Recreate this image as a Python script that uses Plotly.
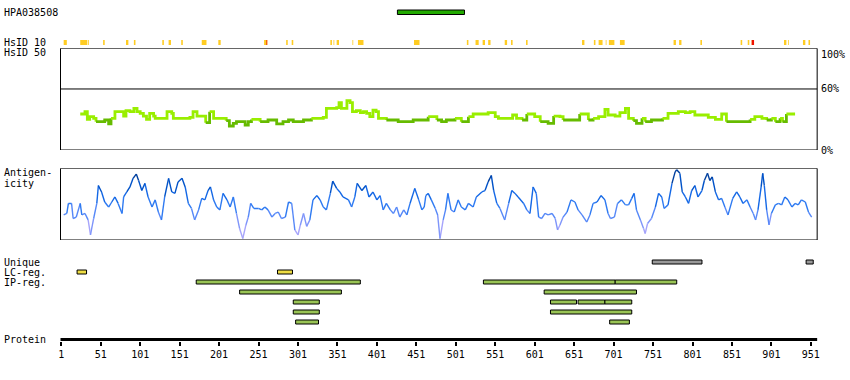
import plotly.graph_objects as go

# ---------------- data ----------------
protein_length = 959
antigen_name = "HPA038508"
antigen_start, antigen_end = 427, 512

tick_labels = [1, 51, 101, 151, 201, 251, 301, 351, 401, 451, 501, 551, 601, 651, 701, 751, 801, 851, 901, 951]

hsid10_start = [4, 25, 35, 54, 83, 93, 129, 137, 153, 179, 200, 258, 286, 293, 342, 346, 350, 370, 377, 448,
                515, 526, 535, 542, 563, 571, 590, 661, 676, 682, 691, 695, 709, 777, 784, 811, 862, 871, 876,
                917, 922, 941, 948]
hsid10_end = [8, 34, 36, 56, 86, 95, 131, 140, 155, 185, 203, 262, 288, 295, 344, 347, 353, 371, 384, 455,
              517, 530, 538, 545, 566, 573, 592, 664, 678, 687, 692, 702, 715, 780, 787, 813, 864, 873, 879,
              920, 923, 944, 950]
hsid10_red_start = [261, 876]
hsid10_red_end = [262, 879]

hsid50_res = [25, 31, 34, 37, 42, 45, 52, 56, 61, 64, 69, 75, 80, 83, 88, 93, 97, 101, 105, 109, 113, 118, 120,
              130, 135, 141, 143, 164, 168, 173, 182, 184, 189, 194, 206, 210, 214, 219, 223, 230, 234, 238, 242,
              247, 253, 263, 274, 282, 289, 295, 308, 318, 333, 337, 350, 353, 356, 363, 367, 370, 375, 380, 384,
              388, 392, 396, 400, 403, 413, 428, 447, 462, 466, 477, 483, 489, 500, 508, 517, 523, 542, 551, 555,
              566, 573, 578, 585, 591, 601, 608, 618, 625, 633, 637, 648, 658, 669, 675, 682, 690, 694, 703, 709,
              716, 720, 726, 730, 737, 741, 749, 758, 763, 770, 783, 792, 798, 804, 813, 821, 830, 838, 844, 865,
              874, 880, 889, 895, 901, 906, 912, 915, 920, 931]
hsid50_val = [35.4, 37.7, 30.1, 32.8, 31.1, 27.9, 27.9, 29.5, 25.6, 31.1, 37.7, 37.7, 33.4, 38.7, 37.7, 41.0, 37.7,
              36.0, 33.4, 30.1, 36.0, 33.4, 31.1, 31.1, 37.7, 36.0, 31.1, 32.1, 37.7, 33.4, 33.4, 26.9, 37.7, 31.1,
              31.1, 28.8, 23.6, 26.2, 27.9, 27.9, 24.6, 27.9, 30.1, 30.1, 27.9, 29.5, 25.6, 27.9, 29.5, 27.9, 29.5,
              31.1, 32.1, 41.0, 41.6, 46.5, 41.0, 48.5, 46.5, 37.7, 38.7, 36.7, 37.7, 36.0, 32.8, 39.3, 37.7, 31.1,
              29.5, 27.9, 29.5, 29.5, 32.8, 29.5, 27.9, 29.5, 31.1, 27.9, 32.8, 35.4, 36.7, 32.8, 31.1, 31.1, 34.4,
              31.1, 29.5, 35.4, 32.8, 27.9, 26.2, 33.4, 32.8, 29.5, 29.5, 35.4, 29.5, 31.1, 32.8, 40.0, 34.4, 33.4,
              36.7, 41.0, 31.1, 28.8, 26.2, 31.1, 27.9, 29.5, 29.5, 31.1, 36.0, 37.7, 36.7, 37.7, 34.4, 34.4, 32.1,
              30.1, 35.4, 27.9, 27.9, 30.1, 32.8, 31.1, 29.5, 31.1, 27.9, 31.1, 27.9, 35.4, 35.4]

antig_res = [4, 8, 10, 14, 16, 20, 25, 27, 31, 35, 38, 42, 46, 48, 52, 56, 61, 65, 69, 73, 78, 80, 84, 88, 92, 96,
             99, 103, 107, 111, 116, 120, 124, 128, 132, 137, 141, 145, 149, 154, 158, 162, 166, 170, 175, 179,
             183, 187, 190, 194, 198, 202, 206, 211, 215, 219, 223, 227, 231, 235, 238, 241, 245, 251, 255, 259,
             263, 268, 272, 276, 280, 285, 289, 293, 297, 301, 304, 308, 312, 316, 320, 325, 329, 333, 337, 342,
             345, 350, 354, 358, 365, 369, 373, 376, 382, 387, 391, 396, 401, 405, 409, 413, 418, 422, 426, 430,
             435, 439, 443, 449, 454, 458, 461, 463, 466, 470, 475, 478, 481, 485, 488, 491, 495, 499, 504, 508,
             513, 517, 523, 527, 534, 538, 542, 546, 549, 553, 557, 563, 568, 572, 576, 580, 587, 591, 595, 599,
             603, 606, 610, 614, 618, 623, 627, 630, 633, 637, 642, 647, 652, 656, 661, 667, 671, 675, 680, 685,
             690, 694, 697, 702, 706, 711, 716, 720, 724, 727, 730, 735, 739, 741, 744, 749, 754, 758, 762, 765,
             770, 775, 779, 781, 785, 788, 792, 796, 800, 804, 808, 813, 816, 820, 823, 826, 830, 834, 838, 842,
             846, 852, 857, 861, 865, 870, 874, 878, 881, 884, 888, 890, 892, 895, 898, 901, 906, 910, 914, 918,
             922, 927, 931, 935, 939, 944, 948, 952]
antig_val = [35, 37, 51, 51, 30, 32, 51, 35, 37, 28, 7, 30, 51, 76, 67, 53, 46, 53, 60, 51, 37, 60, 67, 74, 86, 92,
             83, 69, 79, 60, 46, 56, 39, 28, 60, 86, 67, 65, 81, 86, 74, 51, 44, 28, 42, 58,
             56, 69, 74, 56, 46, 42, 65, 56, 46, 60, 37, 16, 2, 21, 32, 51, 44, 44, 42, 46,
             42, 32, 37, 39, 30, 32, 53, 51, 14, 7, 21, 37, 19, 28, 56, 62, 56, 46, 42, 65,
             82, 72, 67, 60, 56, 46, 60, 79, 69, 76, 60, 67, 56, 62, 42, 51, 42, 37, 46, 32,
             42, 35, 51, 72, 56, 42, 46, 62, 65, 56, 44, 35, 2, 28, 42, 65, 42, 39, 56, 46,
             42, 51, 46, 60, 67, 69, 81, 90, 69, 51, 44, 28, 51, 69, 65, 60, 51, 42, 37, 74,
             65, 32, 30, 37, 35, 37, 30, 14, 21, 32, 39, 56, 53, 42, 35, 25, 35, 51, 53, 62,
             56, 37, 30, 32, 51, 56, 49, 49, 58, 65, 42, 28, 16, 9, 23, 30, 46, 65, 60, 44,
             49, 79, 95, 98, 93, 67, 60, 51, 69, 76, 60, 69, 83, 93, 83, 88, 67, 56, 58, 46,
             35, 58, 67, 60, 51, 56, 46, 37, 28, 42, 74, 93, 76, 42, 21, 37, 49, 51, 49, 60,
             56, 46, 51, 49, 56, 53, 39, 32]

unique_start = [750, 945]
unique_end = [813, 954]
lc_start = [21, 275]
lc_end = [33, 294]
ip_row = [0, 0, 0, 1, 1, 2, 2, 2, 2, 3, 3, 4, 4]
ip_start = [172, 536, 703, 227, 613, 295, 621, 656, 690, 295, 621, 298, 696]
ip_end = [380, 703, 781, 356, 730, 328, 654, 690, 724, 328, 724, 327, 721]

track_labels = ["Unique", "LC-reg.", "IP-reg."]

# ---------------- layout helpers ----------------
W, H = 850, 380
RES1_PX = 61.3
PX_PER_RES = 0.789


def py(px):
    return 1 - px / H


x_range = [1 - RES1_PX / PX_PER_RES, 1 + (W - RES1_PX) / PX_PER_RES]
FONT = "DejaVu Sans Mono"

fig = go.Figure()
shapes = []
annots = []

# HPA antigen bar
shapes.append(dict(type="rect", xref="x", yref="paper", x0=antigen_start, x1=antigen_end,
                   y0=py(14.5), y1=py(10), fillcolor="#22aa00", line=dict(color="black", width=1)))

# HsID 10 track
for s, e in zip(hsid10_start, hsid10_end):
    shapes.append(dict(type="rect", xref="x", yref="paper", x0=s, x1=e, y0=py(45), y1=py(40),
                       fillcolor="#ffcc22", line=dict(width=0)))
for s, e in zip(hsid10_red_start, hsid10_red_end):
    shapes.append(dict(type="rect", xref="x", yref="paper", x0=s, x1=e, y0=py(45), y1=py(40),
                       fillcolor="#ee1100", line=dict(width=0)))

# HsID 50 panel box
shapes.append(dict(type="rect", xref="x", yref="y2", x0=0, x1=protein_length, y0=0, y1=100,
                   line=dict(color="black", width=1), fillcolor="rgba(0,0,0,0)"))
shapes.append(dict(type="line", xref="x", yref="y2", x0=0, x1=protein_length, y0=60, y1=60,
                   line=dict(color="black", width=1)))

# HsID 50 line, coloured by level (step line)
LIGHT, DARK = "#99ee00", "#66bb00"
runs = []
cur = None
for i in range(len(hsid50_res)):
    c = LIGHT if hsid50_val[i] >= 30 else DARK
    if cur is None or cur[0] != c:
        if cur is not None:
            cur[1].append(i)  # include connection point
        cur = (c, [i])
        runs.append(cur)
    else:
        cur[1].append(i)
for c, idx in runs:
    fig.add_trace(go.Scatter(x=[hsid50_res[i] for i in idx], y=[hsid50_val[i] for i in idx],
                             mode="lines", line=dict(color=c, width=2.8, shape="hv"),
                             xaxis="x", yaxis="y2", hoverinfo="skip"))

# Antigenicity panel
shapes.append(dict(type="rect", xref="x", yref="y3", x0=0, x1=protein_length, y0=0, y1=100,
                   line=dict(color="black", width=1), fillcolor="rgba(0,0,0,0)"))

bins = [(85, "#003f9e"), (70, "#0052c8"), (55, "#1468e6"), (42, "#2e7af2"),
        (30, "#5688f8"), (18, "#7f95fa"), (-1, "#a6a4fb")]
seg = {c: ([], []) for _, c in bins}
for i in range(len(antig_res) - 1):
    m = (antig_val[i] + antig_val[i + 1]) / 2
    for th, c in bins:
        if m >= th:
            seg[c][0].extend([antig_res[i], antig_res[i + 1], None])
            seg[c][1].extend([antig_val[i], antig_val[i + 1], None])
            break
for th, c in bins[::-1]:
    xs, ys = seg[c]
    if xs:
        fig.add_trace(go.Scatter(x=xs, y=ys, mode="lines", line=dict(color=c, width=1.4),
                                 xaxis="x", yaxis="y3", hoverinfo="skip", connectgaps=False))

# feature rows
def bar(row, s, e, color):
    shapes.append(dict(type="rect", xref="x", yref="y4", x0=s, x1=e, y0=row - 0.2, y1=row + 0.2,
                       fillcolor=color, line=dict(color="black", width=1)))

for s, e in zip(unique_start, unique_end):
    bar(0, s, e, "#999999")
for s, e in zip(lc_start, lc_end):
    bar(1, s, e, "#eedd44")
for r, s, e in zip(ip_row, ip_start, ip_end):
    bar(2 + r, s, e, "#99c455")

# protein axis line
shapes.append(dict(type="line", xref="x", yref="paper", x0=0, x1=protein_length, y0=py(339.5), y1=py(339.5),
                   line=dict(color="black", width=3)))

# labels
def label(text, ypx, xpx=2):
    annots.append(dict(text=text, xref="paper", yref="paper", x=xpx / W, y=py(ypx), xanchor="left",
                       yanchor="middle", showarrow=False, font=dict(family=FONT, size=10, color="black")))

label(antigen_name, 12.7)
label("HsID 10", 42.3)
label("HsID 50", 52.5)
label("Antigen-", 172.6)
label("icity", 183.3)
for i, t in enumerate(track_labels):
    label(t, 262.7 + 10 * i)
label("Protein", 339.3)

for val, txt, anc in [(100, "100%", "top"), (60, "60%", "middle"), (0, "0%", "middle")]:
    annots.append(dict(text=txt, xref="x", yref="y2", x=protein_length, y=val, xanchor="left",
                       yanchor=anc, xshift=2, yshift=(1 if anc == "top" else 0), showarrow=False,
                       font=dict(family=FONT, size=10, color="black")))

fig.update_layout(
    width=W, height=H, margin=dict(l=0, r=0, t=0, b=0, pad=0),
    paper_bgcolor="white", plot_bgcolor="white", showlegend=False,
    font=dict(family=FONT, size=10, color="black"),
    xaxis=dict(range=x_range, domain=[0, 1], anchor="free", position=py(341), showgrid=False,
               zeroline=False, showline=False, tickmode="array", tickvals=tick_labels,
               ticktext=[str(t) for t in tick_labels], ticks="outside", ticklen=4, tickwidth=2,
               tickcolor="black", tickfont=dict(family=FONT, size=10, color="black"), fixedrange=True),
    yaxis=dict(domain=[0, 1], range=[0, 1], visible=False, fixedrange=True),
    yaxis2=dict(domain=[py(150), py(48.3)], range=[0, 100], visible=False, anchor="x", fixedrange=True),
    yaxis3=dict(domain=[py(240), py(168.3)], range=[0, 100], visible=False, anchor="x", fixedrange=True),
    yaxis4=dict(domain=[py(327), py(257)], range=[6.5, -0.5], visible=False, anchor="x", fixedrange=True),
    shapes=shapes, annotations=annots,
)

fig.write_html("out.html", config={"displayModeBar": False},
               post_script="document.body.style.margin='0';document.body.style.padding='0';")
